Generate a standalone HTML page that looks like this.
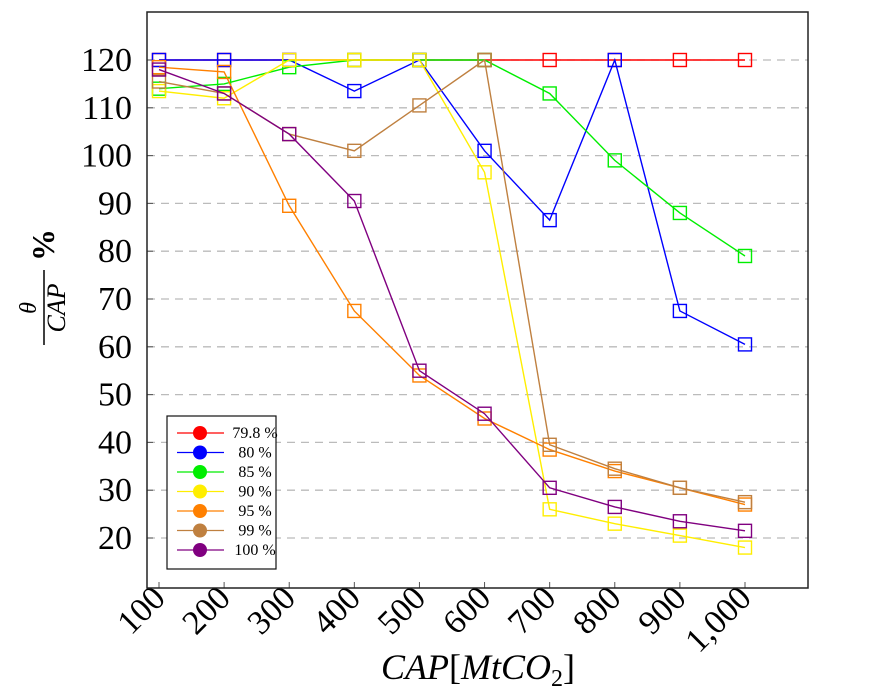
<!DOCTYPE html>
<html><head><meta charset="utf-8"><style>
body{margin:0;background:#fff;}
svg{display:block;font-family:"Liberation Serif",serif;}
</style></head><body>
<svg id="c" width="873" height="692"></svg>
<script>
const categories=[100,200,300,400,500,600,700,800,900,1000];
const xTickLabels=["100","200","300","400","500","600","700","800","900","1,000"];
const yTicks=[20,30,40,50,60,70,80,90,100,110,120];
const seriesNames=["79.8 %","80 %","85 %","90 %","95 %","99 %","100 %"];
const seriesColors=["#ff0000","#0000ff","#00ee00","#ffee00","#ff8000","#bf8040","#800080"];
const s798=[120,120,120,120,120,120,120,120,120,120];
const s80=[120,120,120,113.5,120,101,86.5,120,67.5,60.5];
const s85=[114,115,118.5,120,120,120,113,99,88,79];
const s90=[113.5,112,120,120,120,96.5,26,23,20.5,18];
const s95=[118.5,117.5,89.5,67.5,54,45,38.5,34,30.5,27];
const s99=[115.5,113,104.5,101,110.5,120,39.5,34.5,30.5,27.5];
const s100=[118,113,104.5,90.5,55,46,30.5,26.5,23.5,21.5];
const allSeries=[s798,s80,s85,s90,s95,s99,s100];
const NS="http://www.w3.org/2000/svg";
const svg=document.getElementById('c');
function X(v){return 159+(v-100)*(745-159)/900;}
function Y(v){return 60+(120-v)*4.78;}
function mk(t,a,p){const e=document.createElementNS(NS,t);for(const k in a)e.setAttribute(k,a[k]);(p||svg).appendChild(e);return e;}
yTicks.forEach(v=>{
 const g=mk('line',{x1:147,x2:808,y1:Y(v),y2:Y(v),stroke:'#bbb','stroke-width':1.3,'stroke-dasharray':'8,6'});
 
 
 const t=mk('line',{x1:147,x2:153,y1:Y(v),y2:Y(v),stroke:'#555'});
 
 
 const l=mk('text',{x:132,y:Y(v)+11,'text-anchor':'end','font-size':34});
 l.textContent=v;
 
 
});
categories.forEach((c,i)=>{
 const t=mk('line',{x1:X(c),x2:X(c),y1:582,y2:588,stroke:'#555'});
 
 
 const x=X(c)+8,y=600;
 const l=mk('text',{x:x,y:y,'text-anchor':'end','font-size':34,transform:`rotate(-45 ${x} ${y})`});
 l.textContent=xTickLabels[i];
 
 
});
const fr=mk('rect',{x:147,y:12,width:661,height:576,fill:'none',stroke:'#222','stroke-width':1.5});


allSeries.forEach((s,si)=>{
 const g=mk('g',{});
 
 
 const pts=s.map((v,i)=>X(categories[i])+','+Y(v)).join(' ');
 mk('polyline',{points:pts,fill:'none',stroke:seriesColors[si],'stroke-width':1.4},g);
 s.forEach((v,i)=>{
  const r=mk('rect',{x:X(categories[i])-6.5,y:Y(v)-6.5,width:13,height:13,fill:'none',stroke:seriesColors[si],'stroke-width':1.4},g);
  
  
 });
});
const lg=mk('g',{});


mk('rect',{x:167,y:416,width:109,height:153,fill:'#fff',stroke:'#111','stroke-width':1.2},lg);
seriesNames.forEach((n,i)=>{
 const y=433+i*19.5;
 const e=mk('g',{},lg);
 
 
 mk('line',{x1:177,x2:224,y1:y,y2:y,stroke:seriesColors[i],'stroke-width':1.3},e);
 mk('circle',{cx:200,cy:y,r:7,fill:seriesColors[i]},e);
 const t=mk('text',{x:255,y:y+5,'text-anchor':'middle','font-size':16},e);
 t.textContent=n;
});
const xt=mk('text',{x:478,y:679,'text-anchor':'middle','font-size':36,'font-style':'italic'});
xt.innerHTML='CAP<tspan font-style="normal">[</tspan>MtCO<tspan font-size="24" dy="7" font-style="normal">2</tspan><tspan dy="-7" font-style="normal">]</tspan>';


const yt=mk('g',{transform:'translate(42,300) rotate(-90)'});


const t1=mk('text',{x:-8,y:-6,'text-anchor':'middle','font-size':24,'font-style':'italic'},yt);t1.textContent='θ';
mk('line',{x1:-45,x2:30,y1:2,y2:2,stroke:'#000','stroke-width':1.5},yt);
const t2=mk('text',{x:-8,y:23,'text-anchor':'middle','font-size':26,'font-style':'italic'},yt);t2.textContent='CAP';
const t3=mk('text',{x:55,y:12,'text-anchor':'middle','font-size':32,'font-weight':'bold'},yt);t3.textContent='%';
</script>
</body></html>
